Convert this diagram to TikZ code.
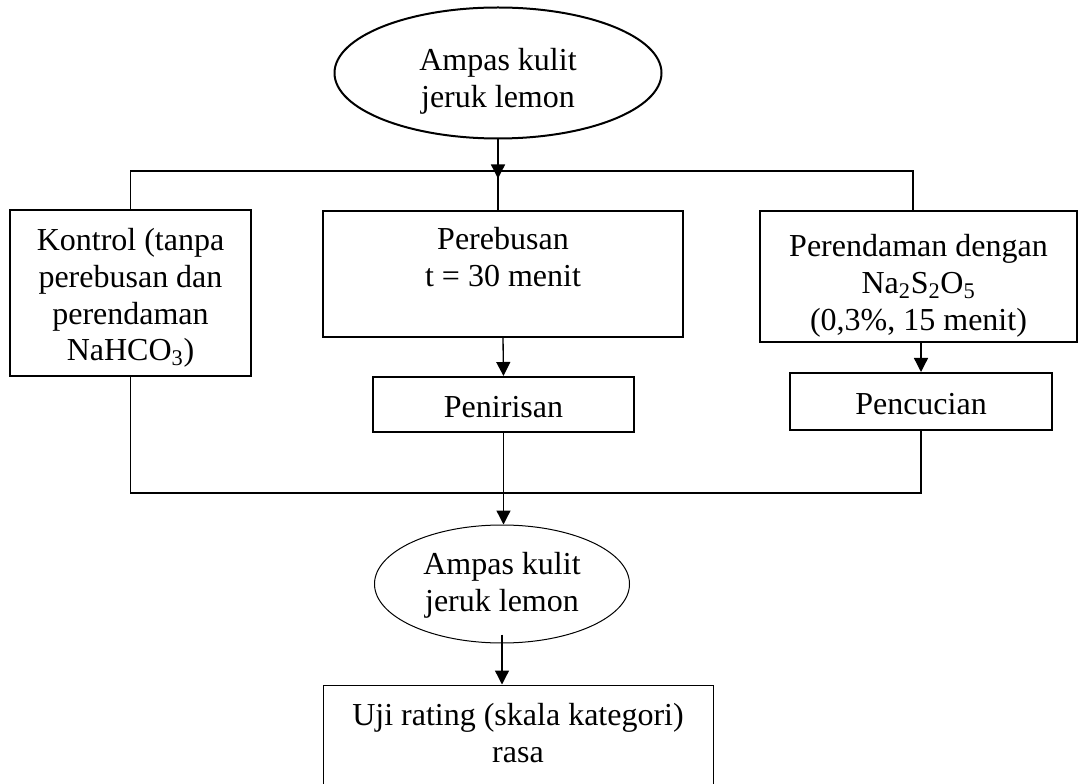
\documentclass[tikz,border=0pt]{standalone}
\usepackage{fontspec}
\setmainfont{Liberation Serif}
\usetikzlibrary{shapes.geometric,arrows.meta}

\tikzset{
  every node/.style={font=\fontsize{24}{27.6}\selectfont, align=center, inner sep=0pt, text depth=0pt},
  kotaktebal/.style={draw, rectangle, line width=1.5pt},
  kotaktipis/.style={draw, rectangle, line width=0.75pt},
  garis/.style={line width=1pt},
  panah/.style={line width=1pt, -{Triangle[width=10.5pt,length=10.5pt]}},
}

\begin{document}
\begin{tikzpicture}[x=0.75pt,y=0.75pt,yscale=-1,xscale=1]
\useasboundingbox (0,0) rectangle (1079,784);

%Shape: Ellipse [bahan awal]
\node[draw, ellipse, line width=1.5pt, minimum width=245.25pt, minimum height=98.25pt, text height=52pt] (ampas) at (498,73) {Ampas kulit\\jeruk lemon};
%Shape: Rectangle [kontrol]
\node[kotaktebal, minimum width=180.75pt, minimum height=124.5pt, text height=102pt] (kontrol) at (130.5,293) {Kontrol (tanpa\\perebusan dan\\perendaman\\NaHCO\textsubscript{3})};
%Shape: Rectangle [perebusan]
\node[kotaktebal, minimum width=270pt, minimum height=94.5pt, text height=19pt] (rebus) at (503,274) {Perebusan\\t = 30 menit};
%Shape: Rectangle [perendaman]
\node[kotaktebal, minimum width=237.75pt, minimum height=98.25pt, text height=81pt] (rendam) at (918.5,276.5) {Perendaman dengan\\Na\textsubscript{2}S\textsubscript{2}O\textsubscript{5}\\(0,3\%, 15 menit)};
%Shape: Rectangle [penirisan]
\node[kotaktebal, minimum width=195.75pt, minimum height=41.25pt, text height=18.75pt] (tiris) at (503.5,404.5) {Penirisan};
%Shape: Rectangle [pencucian]
\node[kotaktebal, minimum width=196.5pt, minimum height=42.75pt, text height=20pt] (cuci) at (921,401.5) {Pencucian};
%Shape: Ellipse [hasil]
\node[draw, ellipse, line width=0.75pt, minimum width=191.25pt, minimum height=88.5pt, text height=41.5pt] (hasil) at (502,584) {Ampas kulit\\jeruk lemon};
%Shape: Rectangle [uji]
\node[kotaktipis, minimum width=292.5pt, minimum height=97.5pt, text height=18pt] (uji) at (518,750) {Uji rating (skala kategori)\\rasa};

\coordinate (busatas) at (913,171);
\coordinate (busbawah) at (0,493);

%Straight Lines [cabang atas]
\draw[panah] (ampas.south) -- ++(0,39);
\draw[garis] (kontrol.north) |- (busatas) -- (busatas |- rendam.north);
\draw[garis] (ampas.south |- busatas) -- (ampas.south |- rebus.north);
%Straight Lines [proses]
\draw[panah] (rebus.south) -- (tiris.north);
\draw[panah] (rendam.south -| cuci.north) -- (cuci.north);
%Straight Lines [gabung bawah]
\draw[garis] (kontrol.south) |- (cuci.south |- busbawah) -- (cuci.south);
\draw[panah] (tiris.south) -- (tiris.south |- hasil.north);
\draw[panah] ([yshift=-6.75pt]hasil.south) -- (hasil.south |- uji.north);

\end{tikzpicture}
\end{document}
